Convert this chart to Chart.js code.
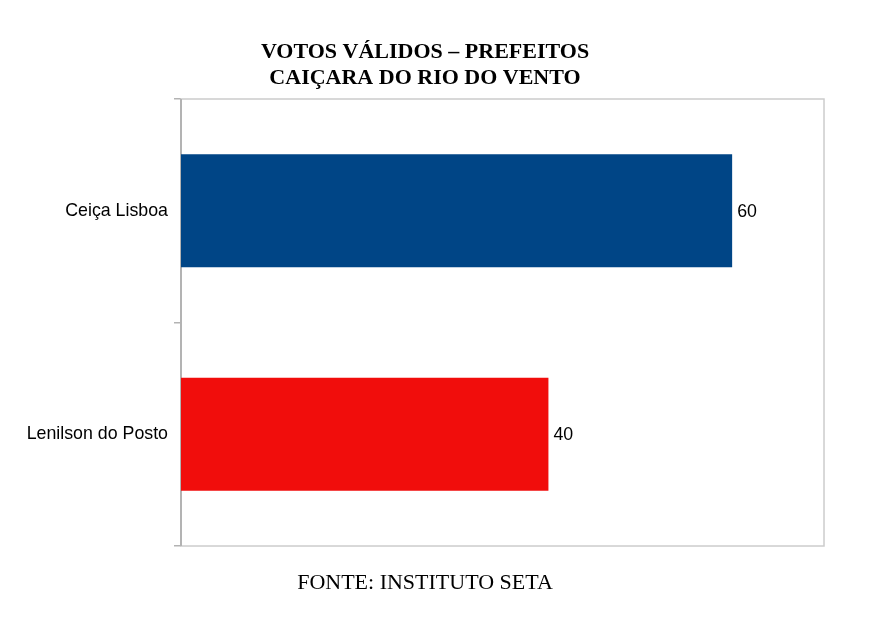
<!DOCTYPE html>
<html>
<head>
<meta charset="utf-8">
<script src="https://cdn.jsdelivr.net/npm/chart.js@4.4.0/dist/chart.umd.min.js"></script>
<style>
html,body{margin:0;padding:0;background:#fff;}
#wrap{width:877px;height:625px;position:relative;}
</style>
</head>
<body>
<div id="wrap"><canvas id="c" width="877" height="625"></canvas></div>
<script>
const categories = ["Ceiça Lisboa", "Lenilson do Posto"];
const votes = [60, 40];
const barColors = ["#004586", "#f10d0c"];
const titleLines = ["VOTOS VÁLIDOS – PREFEITOS", "CAIÇARA DO RIO DO VENTO"];
const footerText = "FONTE: INSTITUTO SETA";
const axisMax = 70;

const framePlugin = {
  id: 'frame',
  beforeDatasetsDraw(chart) {
    const {ctx, chartArea: a} = chart;
    ctx.save();
    ctx.strokeStyle = '#cccccc';
    ctx.lineWidth = 1.5;
    ctx.strokeRect(a.left, a.top, a.right - a.left, a.bottom - a.top);
    ctx.strokeStyle = '#b3b3b3';
    ctx.lineWidth = 2;
    ctx.beginPath();
    ctx.moveTo(a.left, a.top);
    ctx.lineTo(a.left, a.bottom);
    ctx.stroke();
    ctx.restore();
  },
  afterDraw(chart) {
    const {ctx} = chart;
    ctx.save();
    ctx.fillStyle = '#000';
    ctx.textAlign = 'center';
    ctx.textBaseline = 'middle';
    ctx.font = 'bold 22px "Liberation Serif"';
    ctx.fillText(titleLines[0], 425, 52);
    ctx.fillText(titleLines[1], 425, 78);
    ctx.font = '22px "Liberation Serif"';
    ctx.fillText(footerText, 425, 583);
    ctx.font = '17.8px "Liberation Sans"';
    ctx.textAlign = 'left';
    const meta = chart.getDatasetMeta(0);
    meta.data.forEach((el, i) => {
      ctx.fillText(String(votes[i]), el.x + 5, el.y + 1);
    });
    ctx.restore();
  }
};

new Chart(document.getElementById('c'), {
  type: 'bar',
  data: {
    labels: categories,
    datasets: [{
      data: votes,
      backgroundColor: barColors,
      borderWidth: 0,
      barPercentage: 0.506,
      categoryPercentage: 1.0
    }]
  },
  options: {
    indexAxis: 'y',
    responsive: false,
    animation: false,
    devicePixelRatio: 1,
    layout: { padding: { left: 0, right: 53, top: 99, bottom: 79 } },
    plugins: { legend: { display: false }, tooltip: { enabled: false }, title: { display: false } },
    scales: {
      x: {
        display: false,
        min: 0,
        max: axisMax
      },
      y: {
        afterFit(scale) { scale.width = 181; },
        grid: {
          offset: true,
          drawOnChartArea: false,
          drawTicks: true,
          tickLength: 7,
          color: '#b3b3b3',
          lineWidth: 1.5
        },
        border: { display: false },
        ticks: {
          color: '#000',
          padding: 6,
          font: { family: '"Liberation Sans"', size: 17.8 }
        }
      }
    }
  },
  plugins: [framePlugin]
});
</script>
</body>
</html>
